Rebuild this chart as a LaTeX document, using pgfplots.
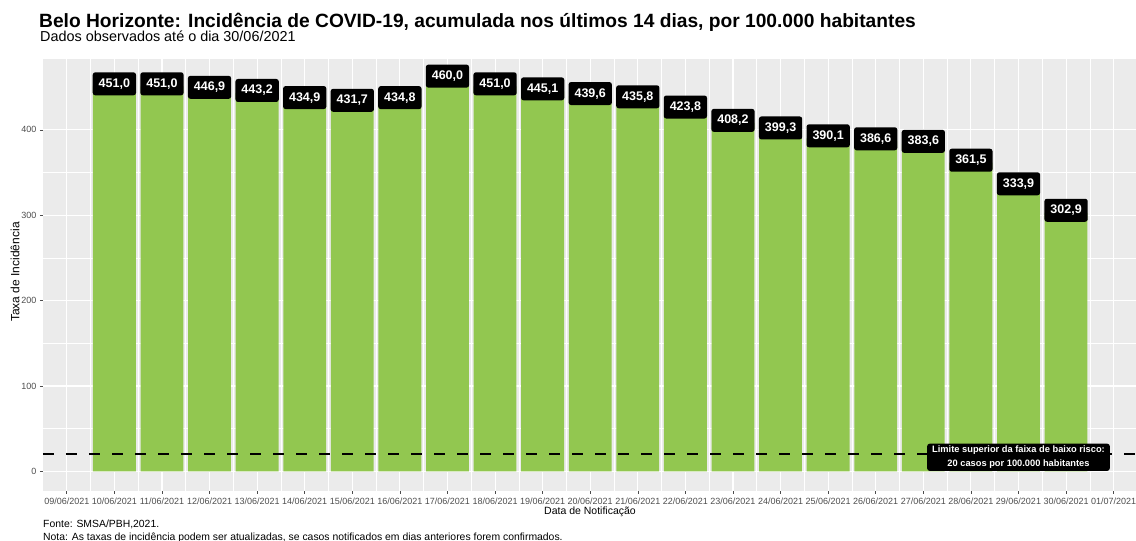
\documentclass[border=0pt]{standalone}
\usepackage{pgfplots}
\pgfplotsset{compat=1.18}
\usepackage{fontspec}
\setmainfont{Liberation Sans}
\definecolor{bargreen}{RGB}{146,199,80}
\definecolor{panelgray}{RGB}{235,235,235}
\definecolor{tickgray}{RGB}{77,77,77}
\begin{document}
\begin{tikzpicture}
\useasboundingbox (0pt,0pt) rectangle (1136pt,541pt);
\node[anchor=base west, inner sep=0pt, font=\fontsize{19.2}{21}\selectfont\bfseries] at (39pt,513pt) {Belo Horizonte: Incidência de COVID-19, acumulada nos últimos 14 dias, por 100.000 habitantes};
\node[anchor=base west, inner sep=0pt, font=\fontsize{14.4}{16}\selectfont] at (40pt,499pt) {Dados observados até o dia 30/06/2021};
\begin{axis}[
  at={(43pt,50pt)}, anchor=south west,
  scale only axis, width=1093pt, height=432pt,
  xmin=-0.5, xmax=22.47, ymin=-23, ymax=483,
  axis background/.style={fill=panelgray},
  axis line style={draw=none},
  xtick={0,...,22},
  xticklabels={09/06/2021,10/06/2021,11/06/2021,12/06/2021,13/06/2021,14/06/2021,15/06/2021,16/06/2021,17/06/2021,18/06/2021,19/06/2021,20/06/2021,21/06/2021,22/06/2021,23/06/2021,24/06/2021,25/06/2021,26/06/2021,27/06/2021,28/06/2021,29/06/2021,30/06/2021,01/07/2021},
  ytick={0,100,200,300,400},
  minor x tick num=1, minor y tick num=1,
  grid=both,
  major grid style={white, line width=1.1pt},
  minor grid style={white, line width=0.55pt},
  tick align=outside,
  major tick length=3pt, minor tick length=0pt,
  tick style={tickgray, line width=0.6pt},
  xtick pos=left, ytick pos=left,
  ticklabel style={font=\fontsize{9}{10}\selectfont, text=tickgray},
  /pgf/number format/assume math mode=true,
]
\addplot[ybar, bar width=0.9, fill=bargreen, draw=none,
  nodes near coords={\pgfmathprintnumber[fixed,fixed zerofill,precision=1,use comma,assume math mode=true]{\pgfplotspointmeta}},
  nodes near coords style={anchor=center, yshift=2.5pt, fill=black, text=white, rounded corners=2.5pt,
    font=\fontsize{12.5}{14}\selectfont\bfseries, inner xsep=6pt, inner ysep=6pt, text height=9pt, text depth=2pt}]
coordinates {
(1,451.0) (2,451.0) (3,446.9) (4,443.2) (5,434.9) (6,431.7) (7,434.8)
(8,460.0) (9,451.0) (10,445.1) (11,439.6) (12,435.8) (13,423.8) (14,408.2)
(15,399.3) (16,390.1) (17,386.6) (18,383.6) (19,361.5) (20,333.9) (21,302.9)
};
\addplot[black, line width=2.2pt, dash pattern=on 11pt off 12pt] coordinates {(-0.5,20) (22.47,20)};
\node[fill=black, text=white, rounded corners=2.5pt, align=center, font=\fontsize{9.3}{13.5}\selectfont\bfseries, inner xsep=5pt, inner ysep=2.5pt] at (axis cs:20,16.5) {Limite superior da faixa de baixo risco:\\20 casos por 100.000 habitantes};
\end{axis}
\node[rotate=90, font=\fontsize{12}{14}\selectfont] at (15pt,269pt) {Taxa de Incidência};
\node[font=\fontsize{10.5}{12}\selectfont] at (590pt,29pt) {Data de Notificação};
\node[anchor=base west, font=\fontsize{10.4}{12}\selectfont, inner sep=0pt] at (43pt,13pt) {Fonte: SMSA/PBH,2021.};
\node[anchor=base west, font=\fontsize{10.4}{12}\selectfont, inner sep=0pt] at (43pt,0.5pt) {Nota: As taxas de incidência podem ser atualizadas, se casos notificados em dias anteriores forem confirmados.};
\end{tikzpicture}
\end{document}
